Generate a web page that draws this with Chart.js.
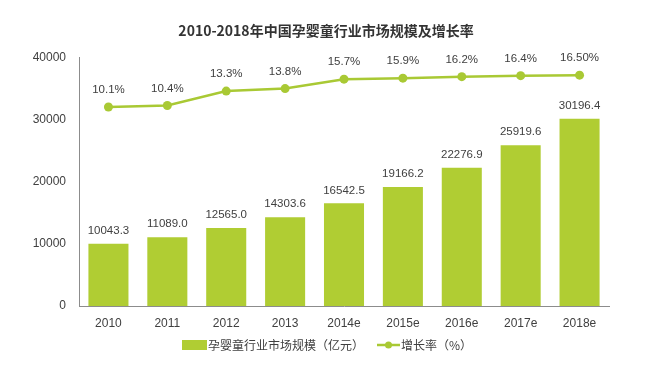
<!DOCTYPE html>
<html lang="zh">
<head>
    <meta charset="UTF-8">
    <title>2010-2018年中国孕婴童行业市场规模及增长率</title>
    <script src="https://cdn.jsdelivr.net/npm/chart.js@4.4.0/dist/chart.umd.min.js"></script>
    <style>
        html, body {
            margin: 0;
            padding: 0;
            background: #ffffff;
        }
        .chart-box {
            position: relative;
            width: 652px;
            height: 368px;
        }
    </style>
</head>
<body>
    <div class="chart-box">
        <canvas id="marketChart"></canvas>
    </div>

    <script>
        // data
        const years = ['2010', '2011', '2012', '2013', '2014e', '2015e', '2016e', '2017e', '2018e'];
        const marketSize = [10043.3, 11089.0, 12565.0, 14303.6, 16542.5, 19166.2, 22276.9, 25919.6, 30196.4];
        const growthRate = [10.1, 10.4, 13.3, 13.8, 15.7, 15.9, 16.2, 16.4, 16.5];
        const growthText = ['10.1%', '10.4%', '13.3%', '13.8%', '15.7%', '15.9%', '16.2%', '16.4%', '16.50%'];
        const sizeTicks = [0, 10000, 20000, 30000, 40000];

        const barColor = '#b0cd33';
        const lineColor = '#a9c934';
        const textColor = '#404040';
        const axisColor = '#8c8c8c';
        const fontFamily = "'Liberation Sans', 'Noto Sans CJK SC', sans-serif";
        const cjkFont = "'Noto Sans CJK SC', 'Liberation Sans', sans-serif";

        // value labels above bars and points
        const valueLabels = {
            id: 'valueLabels',
            afterDatasetsDraw(chart) {
                const ctx = chart.ctx;
                ctx.save();
                ctx.fillStyle = textColor;
                ctx.textAlign = 'center';
                ctx.textBaseline = 'middle';
                ctx.font = '11.5px ' + fontFamily;
                chart.getDatasetMeta(0).data.forEach((bar, i) => {
                    ctx.fillText(marketSize[i].toFixed(1), bar.x, bar.y - 13);
                });
                chart.getDatasetMeta(1).data.forEach((pt, i) => {
                    ctx.fillText(growthText[i], pt.x, pt.y - 17);
                });
                ctx.restore();
            }
        };

        // legend drawn under the axis
        const bottomLegend = {
            id: 'bottomLegend',
            afterDraw(chart) {
                const ctx = chart.ctx;
                const y = 345;
                ctx.save();
                ctx.font = '12px ' + cjkFont;
                ctx.textBaseline = 'middle';

                ctx.fillStyle = barColor;
                ctx.fillRect(182, y - 5, 25, 10);
                ctx.fillStyle = textColor;
                ctx.fillText(chart.data.datasets[0].label, 208, y);

                ctx.strokeStyle = lineColor;
                ctx.lineWidth = 2.5;
                ctx.beginPath();
                ctx.moveTo(377, y);
                ctx.lineTo(400, y);
                ctx.stroke();
                ctx.fillStyle = lineColor;
                ctx.beginPath();
                ctx.arc(388.5, y, 3.5, 0, Math.PI * 2);
                ctx.fill();
                ctx.fillStyle = textColor;
                ctx.fillText(chart.data.datasets[1].label, 401, y);
                ctx.restore();
            }
        };

        const ctx = document.getElementById('marketChart').getContext('2d');
        new Chart(ctx, {
            type: 'bar',
            data: {
                labels: years,
                datasets: [
                    {
                        type: 'bar',
                        label: '孕婴童行业市场规模（亿元）',
                        data: marketSize,
                        backgroundColor: barColor,
                        categoryPercentage: 1,
                        barPercentage: 0.68,
                        yAxisID: 'y',
                        order: 2
                    },
                    {
                        type: 'line',
                        label: '增长率（%）',
                        data: growthRate,
                        borderColor: lineColor,
                        backgroundColor: lineColor,
                        borderWidth: 2.5,
                        pointRadius: 4.5,
                        pointBackgroundColor: lineColor,
                        pointBorderWidth: 0,
                        tension: 0,
                        yAxisID: 'y1',
                        order: 1
                    }
                ]
            },
            options: {
                responsive: true,
                maintainAspectRatio: false,
                animation: false,
                layout: {
                    padding: 0
                },
                scales: {
                    x: {
                        grid: { display: false, drawTicks: false },
                        border: { display: true, color: axisColor, width: 1 },
                        ticks: {
                            color: textColor,
                            font: { family: fontFamily, size: 12 },
                            padding: 10,
                            maxRotation: 0
                        },
                        afterFit(scale) {
                            scale.height = 62;
                        }
                    },
                    y: {
                        min: 0,
                        max: 40000,
                        grid: { display: false, drawTicks: false },
                        border: { display: true, color: axisColor, width: 1 },
                        afterBuildTicks(scale) {
                            scale.ticks = sizeTicks.map(v => ({ value: v }));
                        },
                        ticks: {
                            color: textColor,
                            font: { family: fontFamily, size: 12 },
                            padding: 13,
                            callback: v => String(v)
                        },
                        afterFit(scale) {
                            scale.width = 79;
                        }
                    },
                    // hidden rate axis, also keeps the right margin
                    y1: {
                        position: 'right',
                        min: -30,
                        max: 20,
                        grid: { display: false, drawTicks: false },
                        border: { display: false },
                        ticks: { display: false },
                        afterFit(scale) {
                            scale.width = 43;
                        }
                    }
                },
                plugins: {
                    legend: { display: false },
                    tooltip: { enabled: false },
                    title: {
                        display: true,
                        text: '2010-2018年中国孕婴童行业市场规模及增长率',
                        color: '#333333',
                        font: { family: cjkFont, size: 14, weight: 'bold' },
                        padding: { top: 22, bottom: 19 }
                    }
                }
            },
            plugins: [valueLabels, bottomLegend]
        });
    </script>
</body>
</html>
